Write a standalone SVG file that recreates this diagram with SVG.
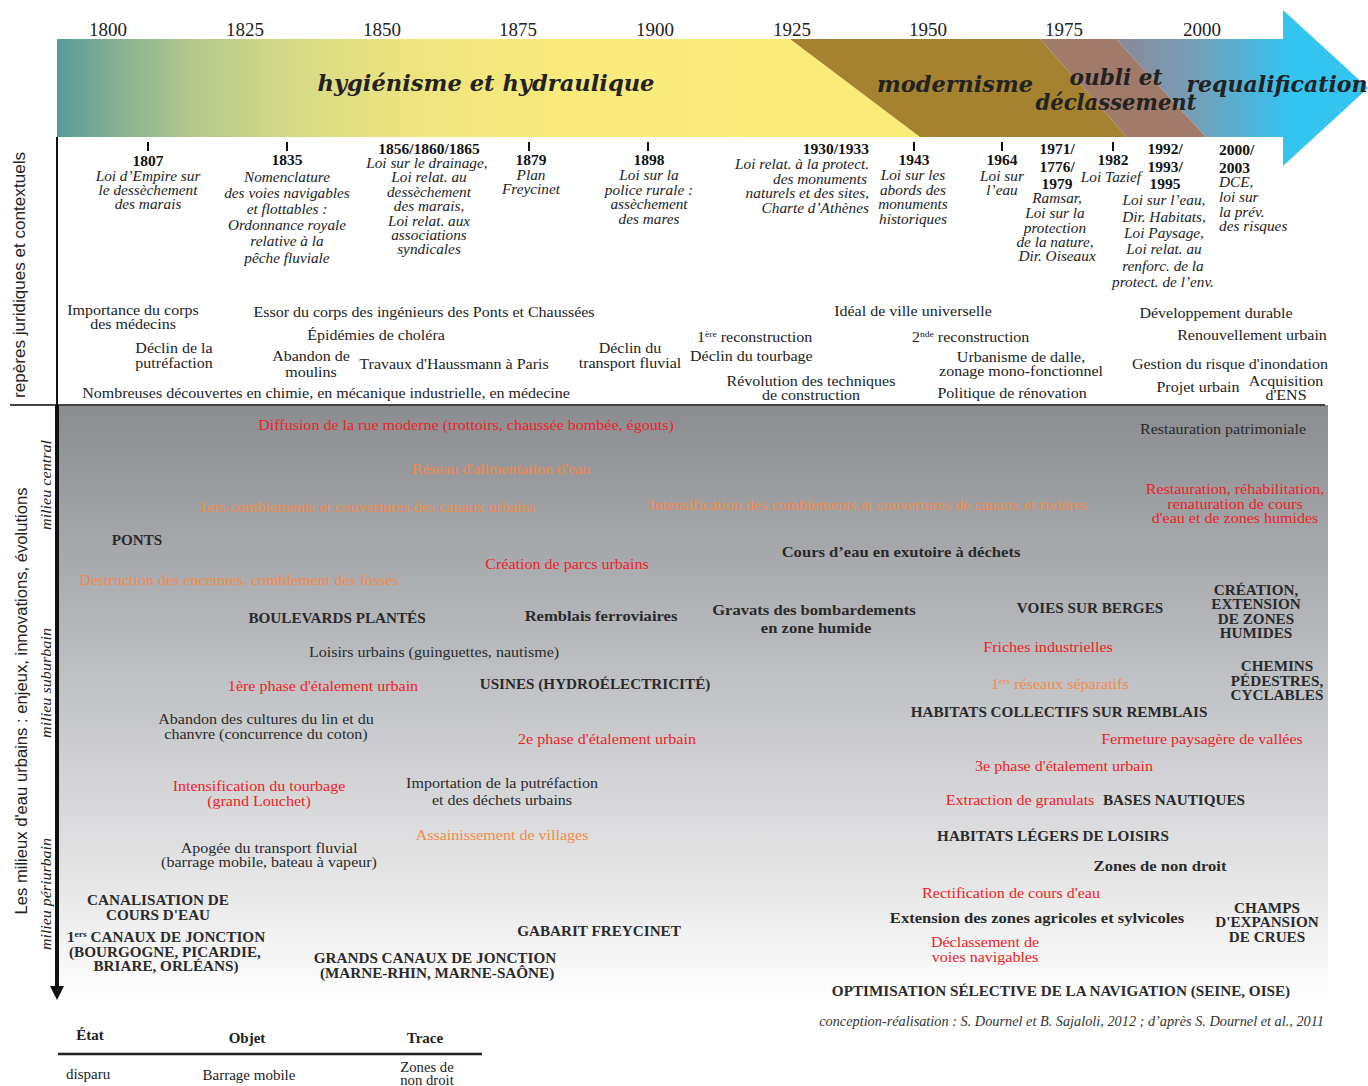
<svg xmlns="http://www.w3.org/2000/svg" width="1368" height="1086" viewBox="0 0 1368 1086">
<defs>
<linearGradient id="gHyg" gradientUnits="userSpaceOnUse" x1="57" y1="0" x2="790" y2="0">
<stop offset="0" stop-color="#579b98"/>
<stop offset="0.07" stop-color="#7fae94"/>
<stop offset="0.18" stop-color="#b2c78b"/>
<stop offset="0.32" stop-color="#d6da86"/>
<stop offset="0.48" stop-color="#ede47f"/>
<stop offset="0.68" stop-color="#f8ea7b"/>
<stop offset="1" stop-color="#fbec7a"/>
</linearGradient>
<linearGradient id="gReq" gradientUnits="userSpaceOnUse" x1="1116" y1="0" x2="1290" y2="0">
<stop offset="0" stop-color="#8a8896"/>
<stop offset="0.45" stop-color="#769fb8"/>
<stop offset="1" stop-color="#33c4f0"/>
</linearGradient>
<linearGradient id="gPanel" x1="0" y1="0" x2="0" y2="1">
<stop offset="0" stop-color="#8b8c90"/>
<stop offset="0.5" stop-color="#c4c5c8"/>
<stop offset="0.82" stop-color="#e8e8e9"/>
<stop offset="1" stop-color="#ffffff"/>
</linearGradient>
<style>
text{font-family:"Liberation Serif",serif;}
.yr{font-size:19px;fill:#222;text-anchor:middle}
.ttl{font-family:"DejaVu Serif",serif;font-weight:bold;font-style:italic;font-size:22px;fill:#222;text-anchor:middle}
.ly{font-weight:bold;font-size:14.7px;fill:#111;text-anchor:middle}
.li{font-style:italic;font-size:14.5px;fill:#222;text-anchor:middle}
.ctx{font-size:15px;fill:#222;text-anchor:middle}
.m{font-size:15px;text-anchor:middle}
.b{font-weight:bold;font-size:15.5px}
.c{font-weight:bold;font-size:14.2px}
.s{text-anchor:start}
.e{text-anchor:end}
.red{fill:#ec2227}
.org{fill:#f28a48}
.dk{fill:#2a2a2a}
.sup{font-size:9px}
.side{font-family:"Liberation Sans",sans-serif;font-size:17px;fill:#222;text-anchor:middle}
.mil{font-style:italic;font-size:15px;fill:#222;text-anchor:middle}
.lg{font-size:15px;fill:#222;text-anchor:middle}
</style>
</defs>
<rect width="1368" height="1086" fill="#ffffff"/>

<g id="timeline-band">
<polygon points="57,39 790,39 920,137 57,137" fill="url(#gHyg)"/>
<polygon points="790,39 1040,39 1127,137 920,137" fill="#a5822f"/>
<polygon points="1040,39 1116,39 1206,137 1127,137" fill="#a17b69"/>
<polygon points="1116,39 1283,39 1283,10 1368,88 1283,166 1283,137 1206,137" fill="url(#gReq)"/>
<text class="ttl" x="486" y="91" textLength="337" lengthAdjust="spacingAndGlyphs">hygiénisme et hydraulique</text>
<text class="ttl" x="955" y="92" textLength="156" lengthAdjust="spacingAndGlyphs">modernisme</text>
<text class="ttl" x="1116" y="85" textLength="93" lengthAdjust="spacingAndGlyphs">oubli et</text>
<text class="ttl" x="1116" y="110" textLength="161" lengthAdjust="spacingAndGlyphs">déclassement</text>
<text class="ttl" x="1277" y="92" textLength="181" lengthAdjust="spacingAndGlyphs">requalification</text>
</g>

<g id="years">
<text class="yr" x="108" y="36">1800</text>
<text class="yr" x="245" y="36">1825</text>
<text class="yr" x="382" y="36">1850</text>
<text class="yr" x="518" y="36">1875</text>
<text class="yr" x="655" y="36">1900</text>
<text class="yr" x="792" y="36">1925</text>
<text class="yr" x="928" y="36">1950</text>
<text class="yr" x="1064" y="36">1975</text>
<text class="yr" x="1202" y="36">2000</text>
</g>

<g id="ticks" stroke="#111" stroke-width="2">
<line x1="148" y1="142" x2="148" y2="151"/>
<line x1="287" y1="142" x2="287" y2="151"/>
<line x1="529" y1="142" x2="529" y2="151"/>
<line x1="648" y1="142" x2="648" y2="151"/>
<line x1="914" y1="142" x2="914" y2="151"/>
<line x1="1002" y1="142" x2="1002" y2="151"/>
<line x1="1113" y1="142" x2="1113" y2="151"/>
</g>

<g id="law-1807" transform="translate(148,0) scale(1.055,1)">
<text class="ly" x="0" y="166">1807</text>
<text class="li" x="0" y="181">Loi d’Empire sur</text>
<text class="li" x="0" y="195">le dessèchement</text>
<text class="li" x="0" y="209">des marais</text>
</g>
<g id="law-1835" transform="translate(287,0) scale(1.055,1)">
<text class="ly" x="0" y="165">1835</text>
<text class="li" x="0" y="182">Nomenclature</text>
<text class="li" x="0" y="198">des voies navigables</text>
<text class="li" x="0" y="214">et flottables :</text>
<text class="li" x="0" y="230">Ordonnance royale</text>
<text class="li" x="0" y="246">relative à la</text>
<text class="li" x="0" y="263">pêche fluviale</text>
</g>
<g id="law-1856" transform="translate(429,0) scale(1.055,1)">
<text class="ly" x="0" y="154">1856/1860/1865</text>
<text class="li" x="-2" y="168">Loi sur le drainage,</text>
<text class="li" x="0" y="182">Loi relat. au</text>
<text class="li" x="0" y="197">dessèchement</text>
<text class="li" x="0" y="211">des marais,</text>
<text class="li" x="0" y="226">Loi relat. aux</text>
<text class="li" x="0" y="240">associations</text>
<text class="li" x="0" y="254">syndicales</text>
</g>
<g id="law-1879" transform="translate(531,0) scale(1.055,1)">
<text class="ly" x="0" y="165">1879</text>
<text class="li" x="0" y="180">Plan</text>
<text class="li" x="0" y="194">Freycinet</text>
</g>
<g id="law-1898" transform="translate(649,0) scale(1.055,1)">
<text class="ly" x="0" y="165">1898</text>
<text class="li" x="0" y="180">Loi sur la</text>
<text class="li" x="0" y="195">police rurale :</text>
<text class="li" x="0" y="209">assèchement</text>
<text class="li" x="0" y="224">des mares</text>
</g>
<g id="law-1930" transform="translate(869,0) scale(1.055,1)">
<text class="ly e" x="0" y="154">1930/1933</text>
<text class="li e" x="0" y="169">Loi relat. à la protect.</text>
<text class="li e" x="-2" y="184">des monuments</text>
<text class="li e" x="0" y="198">naturels et des sites,</text>
<text class="li e" x="0" y="213">Charte d’Athènes</text>
</g>
<g id="law-1943" transform="translate(913,0) scale(1.055,1)">
<text class="ly" x="1" y="165">1943</text>
<text class="li" x="0" y="180">Loi sur les</text>
<text class="li" x="0" y="195">abords des</text>
<text class="li" x="0" y="209">monuments</text>
<text class="li" x="0" y="224">historiques</text>
</g>
<g id="law-1964" transform="translate(1002,0) scale(1.055,1)">
<text class="ly" x="0" y="165">1964</text>
<text class="li" x="0" y="181">Loi sur</text>
<text class="li" x="0" y="195">l’eau</text>
</g>
<g id="law-1971" transform="translate(1056,0) scale(1.055,1)">
<text class="ly" x="1" y="154">1971/</text>
<text class="ly" x="1" y="172">1776/</text>
<text class="ly" x="1" y="189">1979</text>
<text class="li" x="1" y="203">Ramsar,</text>
<text class="li" x="-1" y="218">Loi sur la</text>
<text class="li" x="-1" y="233">protection</text>
<text class="li" x="-1" y="247">de la nature,</text>
<text class="li" x="1" y="261">Dir. Oiseaux</text>
</g>
<g id="law-1982" transform="translate(1112,0) scale(1.055,1)">
<text class="ly" x="1" y="165">1982</text>
<text class="li" x="-1" y="182">Loi Tazief</text>
</g>
<g id="law-1992" transform="translate(1164,0) scale(1.055,1)">
<text class="ly" x="1" y="154">1992/</text>
<text class="ly" x="1" y="172">1993/</text>
<text class="ly" x="1" y="189">1995</text>
<text class="li" x="0" y="205">Loi sur l’eau,</text>
<text class="li" x="0" y="222">Dir. Habitats,</text>
<text class="li" x="0" y="238">Loi Paysage,</text>
<text class="li" x="0" y="254">Loi relat. au</text>
<text class="li" x="-1" y="271">renforc. de la</text>
<text class="li" x="-1" y="287">protect. de l’env.</text>
</g>
<g id="law-2000" transform="translate(1219,0) scale(1.055,1)">
<text class="ly s" x="0" y="155">2000/</text>
<text class="ly s" x="0" y="173">2003</text>
<text class="li s" x="0" y="187">DCE,</text>
<text class="li s" x="0" y="202">loi sur</text>
<text class="li s" x="0" y="217">la prév.</text>
<text class="li s" x="0" y="231">des risques</text>
</g>

<g id="context">
<g id="ctx-medecins" transform="translate(133,0) scale(1.067,1)"><text class="ctx" x="0" y="315">Importance du corps</text><text class="ctx" x="0" y="329">des médecins</text></g>
<g id="ctx-ponts" transform="translate(424,0) scale(1.067,1)"><text class="ctx" x="0" y="317">Essor du corps des ingénieurs des Ponts et Chaussées</text></g>
<g id="ctx-cholera" transform="translate(376,0) scale(1.067,1)"><text class="ctx" x="0" y="340">Épidémies de choléra</text></g>
<g id="ctx-putrefaction" transform="translate(174,0) scale(1.067,1)"><text class="ctx" x="0" y="353">Déclin de la</text><text class="ctx" x="0" y="368">putréfaction</text></g>
<g id="ctx-moulins" transform="translate(311,0) scale(1.067,1)"><text class="ctx" x="0" y="361">Abandon de</text><text class="ctx" x="0" y="377">moulins</text></g>
<g id="ctx-haussmann" transform="translate(454,0) scale(1.067,1)"><text class="ctx" x="0" y="369">Travaux d'Haussmann à Paris</text></g>
<g id="ctx-fluvial" transform="translate(630,0) scale(1.067,1)"><text class="ctx" x="0" y="353">Déclin du</text><text class="ctx" x="0" y="368">transport fluvial</text></g>
<g id="ctx-decouvertes" transform="translate(326,0) scale(1.067,1)"><text class="ctx" x="0" y="398">Nombreuses découvertes en chimie, en mécanique industrielle, en médecine</text></g>
<g id="ctx-reconstruction1" transform="translate(697,0) scale(1.067,1)"><text class="ctx s" x="0" y="342">1<tspan class="sup" dy="-5">ère</tspan><tspan dy="5"> reconstruction</tspan></text></g>
<g id="ctx-tourbage" transform="translate(690,0) scale(1.067,1)"><text class="ctx s" x="0" y="361">Déclin du tourbage</text></g>
<g id="ctx-techniques" transform="translate(811,0) scale(1.067,1)"><text class="ctx" x="0" y="386">Révolution des techniques</text><text class="ctx" x="0" y="400">de construction</text></g>
<g id="ctx-ideal" transform="translate(913,0) scale(1.067,1)"><text class="ctx" x="0" y="316">Idéal de ville universelle</text></g>
<g id="ctx-reconstruction2" transform="translate(912,0) scale(1.067,1)"><text class="ctx s" x="0" y="342">2<tspan class="sup" dy="-5">nde</tspan><tspan dy="5"> reconstruction</tspan></text></g>
<g id="ctx-dalle" transform="translate(1021,0) scale(1.067,1)"><text class="ctx" x="0" y="362">Urbanisme de dalle,</text><text class="ctx" x="0" y="376">zonage mono-fonctionnel</text></g>
<g id="ctx-renovation" transform="translate(1012,0) scale(1.067,1)"><text class="ctx" x="0" y="398">Politique de rénovation</text></g>
<g id="ctx-durable" transform="translate(1216,0) scale(1.067,1)"><text class="ctx" x="0" y="318">Développement durable</text></g>
<g id="ctx-renouvellement" transform="translate(1252,0) scale(1.067,1)"><text class="ctx" x="0" y="340">Renouvellement urbain</text></g>
<g id="ctx-inondation" transform="translate(1230,0) scale(1.067,1)"><text class="ctx" x="0" y="369">Gestion du risque d'inondation</text></g>
<g id="ctx-projet" transform="translate(1198,0) scale(1.067,1)"><text class="ctx" x="0" y="392">Projet urbain</text></g>
<g id="ctx-ens" transform="translate(1286,0) scale(1.067,1)"><text class="ctx" x="0" y="386">Acquisition</text><text class="ctx" x="0" y="400">d'ENS</text></g>
</g>

<g id="panel">
<rect x="57" y="405" width="1271" height="595" fill="url(#gPanel)"/>
</g>

<g id="connectors">
<line x1="10" y1="405" x2="1325" y2="405" stroke="#444" stroke-width="2"/>
<line x1="57" y1="137" x2="57" y2="405" stroke="#111" stroke-width="2"/>
<line x1="57" y1="405" x2="57" y2="988" stroke="#111" stroke-width="4"/>
<polygon points="50,986 64,986 57,1000" fill="#111"/>
<line x1="58" y1="1054" x2="482" y2="1054" stroke="#222" stroke-width="2.5"/>
</g>

<g id="side-labels">
<text class="side" transform="translate(25,275) rotate(-90)" textLength="246" lengthAdjust="spacingAndGlyphs">repères juridiques et contextuels</text>
<text class="side" transform="translate(27,701) rotate(-90)" textLength="427" lengthAdjust="spacingAndGlyphs">Les milieux d'eau urbains : enjeux, innovations, évolutions</text>
<text class="mil" transform="translate(51,485) rotate(-90)" textLength="90" lengthAdjust="spacingAndGlyphs">milieu central</text>
<text class="mil" transform="translate(51,683) rotate(-90)" textLength="110" lengthAdjust="spacingAndGlyphs">milieu suburbain</text>
<text class="mil" transform="translate(51,894) rotate(-90)" textLength="112" lengthAdjust="spacingAndGlyphs">milieu périurbain</text>
</g>

<g id="central">
<g id="n-rue" transform="translate(466,0) scale(1.07,1)"><text class="m red" x="0" y="430">Diffusion de la rue moderne (trottoirs, chaussée bombée, égouts)</text></g>
<g id="n-patrimoniale" transform="translate(1223,0) scale(1.07,1)"><text class="m dk" x="0" y="434">Restauration patrimoniale</text></g>
<g id="n-reseau" transform="translate(501,0) scale(1.07,1)"><text class="m org" x="0" y="474">Réseau d'alimentation d'eau</text></g>
<g id="n-comblements1" transform="translate(367,0) scale(1.07,1)"><text class="m org" x="0" y="512">1ers comblements et couvertures des canaux urbains</text></g>
<g id="n-comblements2" transform="translate(868,0) scale(1.07,1)"><text class="m org" x="0" y="510">Intensification des comblements et couvertures de canaux et rivières</text></g>
<g id="n-restauration" transform="translate(1235,0) scale(1.07,1)"><text class="m red" x="0" y="494">Restauration, réhabilitation,</text><text class="m red" x="0" y="509">renaturation de cours</text><text class="m red" x="0" y="523">d'eau et de zones humides</text></g>
<g id="n-ponts" transform="translate(137,0) scale(1.07,1)"><text class="m c dk" x="0" y="545">PONTS</text></g>
<g id="n-parcs" transform="translate(567,0) scale(1.07,1)"><text class="m red" x="0" y="569">Création de parcs urbains</text></g>
<g id="n-exutoire" transform="translate(901,0) scale(1.07,1)"><text class="m b dk" x="0" y="557">Cours d’eau en exutoire à déchets</text></g>
<g id="n-enceintes" transform="translate(239,0) scale(1.07,1)"><text class="m org" x="0" y="585">Destruction des enceintes, comblement des fossés</text></g>
</g>

<g id="suburban">
<g id="n-boulevards" transform="translate(337,0) scale(1.07,1)"><text class="m c dk" x="0" y="623">BOULEVARDS PLANTÉS</text></g>
<g id="n-remblais" transform="translate(601,0) scale(1.07,1)"><text class="m b dk" x="0" y="621">Remblais ferroviaires</text></g>
<g id="n-gravats" transform="translate(815,0) scale(1.07,1)"><text class="m b dk" x="-1" y="615">Gravats des bombardements</text><text class="m b dk" x="1" y="633">en zone humide</text></g>
<g id="n-voies" transform="translate(1090,0) scale(1.07,1)"><text class="m c dk" x="0" y="613">VOIES SUR BERGES</text></g>
<g id="n-zones-humides" transform="translate(1256,0) scale(1.07,1)"><text class="m c dk" x="0" y="595">CRÉATION,</text><text class="m c dk" x="0" y="609">EXTENSION</text><text class="m c dk" x="0" y="624">DE ZONES</text><text class="m c dk" x="0" y="638">HUMIDES</text></g>
<g id="n-friches" transform="translate(1048,0) scale(1.07,1)"><text class="m red" x="0" y="652">Friches industrielles</text></g>
<g id="n-loisirs" transform="translate(434,0) scale(1.07,1)"><text class="m dk" x="0" y="657">Loisirs urbains (guinguettes, nautisme)</text></g>
<g id="n-etalement1" transform="translate(323,0) scale(1.07,1)"><text class="m red" x="0" y="691">1ère phase d'étalement urbain</text></g>
<g id="n-usines" transform="translate(595,0) scale(1.07,1)"><text class="m c dk" x="0" y="689">USINES (HYDROÉLECTRICITÉ)</text></g>
<g id="n-separatifs" transform="translate(991,0) scale(1.07,1)"><text class="m org s" x="0" y="689">1<tspan class="sup" dy="-5">ers</tspan><tspan dy="5"> réseaux séparatifs</tspan></text></g>
<g id="n-chemins" transform="translate(1277,0) scale(1.07,1)"><text class="m c dk" x="0" y="671">CHEMINS</text><text class="m c dk" x="0" y="686">PÉDESTRES,</text><text class="m c dk" x="0" y="700">CYCLABLES</text></g>
<g id="n-habitats-collectifs" transform="translate(1059,0) scale(1.07,1)"><text class="m c dk" x="0" y="717">HABITATS COLLECTIFS SUR REMBLAIS</text></g>
<g id="n-lin" transform="translate(266,0) scale(1.07,1)"><text class="m dk" x="0" y="724">Abandon des cultures du lin et du</text><text class="m dk" x="0" y="739">chanvre (concurrence du coton)</text></g>
<g id="n-etalement2" transform="translate(607,0) scale(1.07,1)"><text class="m red" x="0" y="744">2e phase d'étalement urbain</text></g>
<g id="n-fermeture" transform="translate(1202,0) scale(1.07,1)"><text class="m red" x="0" y="744">Fermeture paysagère de vallées</text></g>
<g id="n-etalement3" transform="translate(1064,0) scale(1.07,1)"><text class="m red" x="0" y="771">3e phase d'étalement urbain</text></g>
<g id="n-tourbage" transform="translate(259,0) scale(1.07,1)"><text class="m red" x="0" y="791">Intensification du tourbage</text><text class="m red" x="0" y="806">(grand Louchet)</text></g>
<g id="n-importation" transform="translate(502,0) scale(1.07,1)"><text class="m dk" x="0" y="788">Importation de la putréfaction</text><text class="m dk" x="0" y="805">et des déchets urbains</text></g>
<g id="n-granulats" transform="translate(1020,0) scale(1.07,1)"><text class="m red" x="0" y="805">Extraction de granulats</text></g>
<g id="n-nautiques" transform="translate(1174,0) scale(1.07,1)"><text class="m c dk" x="0" y="805">BASES NAUTIQUES</text></g>
</g>

<g id="periurban">
<g id="n-villages" transform="translate(502,0) scale(1.07,1)"><text class="m org" x="0" y="840">Assainissement de villages</text></g>
<g id="n-habitats-legers" transform="translate(1053,0) scale(1.07,1)"><text class="m c dk" x="0" y="841">HABITATS LÉGERS DE LOISIRS</text></g>
<g id="n-apogee" transform="translate(269,0) scale(1.07,1)"><text class="m dk" x="0" y="853">Apogée du transport fluvial</text><text class="m dk" x="0" y="867">(barrage mobile, bateau à vapeur)</text></g>
<g id="n-non-droit" transform="translate(1160,0) scale(1.07,1)"><text class="m b dk" x="0" y="871">Zones de non droit</text></g>
<g id="n-canalisation" transform="translate(158,0) scale(1.07,1)"><text class="m c dk" x="0" y="905">CANALISATION DE</text><text class="m c dk" x="0" y="920">COURS D'EAU</text></g>
<g id="n-rectification" transform="translate(1011,0) scale(1.07,1)"><text class="m red" x="0" y="898">Rectification de cours d'eau</text></g>
<g id="n-agricoles" transform="translate(1037,0) scale(1.07,1)"><text class="m b dk" x="0" y="923">Extension des zones agricoles et sylvicoles</text></g>
<g id="n-champs" transform="translate(1267,0) scale(1.07,1)"><text class="m c dk" x="0" y="913">CHAMPS</text><text class="m c dk" x="0" y="927">D'EXPANSION</text><text class="m c dk" x="0" y="942">DE CRUES</text></g>
<g id="n-canaux1" transform="translate(166,0) scale(1.07,1)"><text class="m c dk" x="0" y="942">1<tspan class="sup" dy="-5">ers</tspan><tspan dy="5"> CANAUX DE JONCTION</tspan></text><text class="m c dk" x="-1" y="957">(BOURGOGNE, PICARDIE,</text><text class="m c dk" x="0" y="971">BRIARE, ORLÉANS)</text></g>
<g id="n-freycinet" transform="translate(599,0) scale(1.07,1)"><text class="m c dk" x="0" y="936">GABARIT FREYCINET</text></g>
<g id="n-grands-canaux" transform="translate(436,0) scale(1.07,1)"><text class="m c dk" x="-1" y="963">GRANDS CANAUX DE JONCTION</text><text class="m c dk" x="1" y="978">(MARNE-RHIN, MARNE-SAÔNE)</text></g>
<g id="n-declassement" transform="translate(985,0) scale(1.07,1)"><text class="m red" x="0" y="947">Déclassement de</text><text class="m red" x="0" y="962">voies navigables</text></g>
<g id="n-optimisation" transform="translate(1061,0) scale(1.07,1)"><text class="m c dk" x="0" y="996">OPTIMISATION SÉLECTIVE DE LA NAVIGATION (SEINE, OISE)</text></g>
</g>

<g id="credit">
<text x="1324" y="1026" style="font-style:italic;font-size:14.3px;fill:#333;text-anchor:end">conception-réalisation : S. Dournel et B. Sajaloli, 2012 ; d’après S. Dournel et al., 2011</text>
</g>

<g id="legend">
<text class="lg" x="90" y="1040" font-weight="bold">État</text>
<text class="lg" x="247" y="1043" font-weight="bold">Objet</text>
<text class="lg" x="425" y="1043" font-weight="bold">Trace</text>
<text class="lg" x="66" y="1079" style="text-anchor:start">disparu</text>
<text class="lg" x="249" y="1080">Barrage mobile</text>
<g id="legend-trace" transform="translate(427,0) scale(1.05,1)"><text style="font-size:14px;fill:#222;text-anchor:middle" x="0" y="1072">Zones de</text><text style="font-size:14px;fill:#222;text-anchor:middle" x="0" y="1085">non droit</text></g>
</g>
</svg>
